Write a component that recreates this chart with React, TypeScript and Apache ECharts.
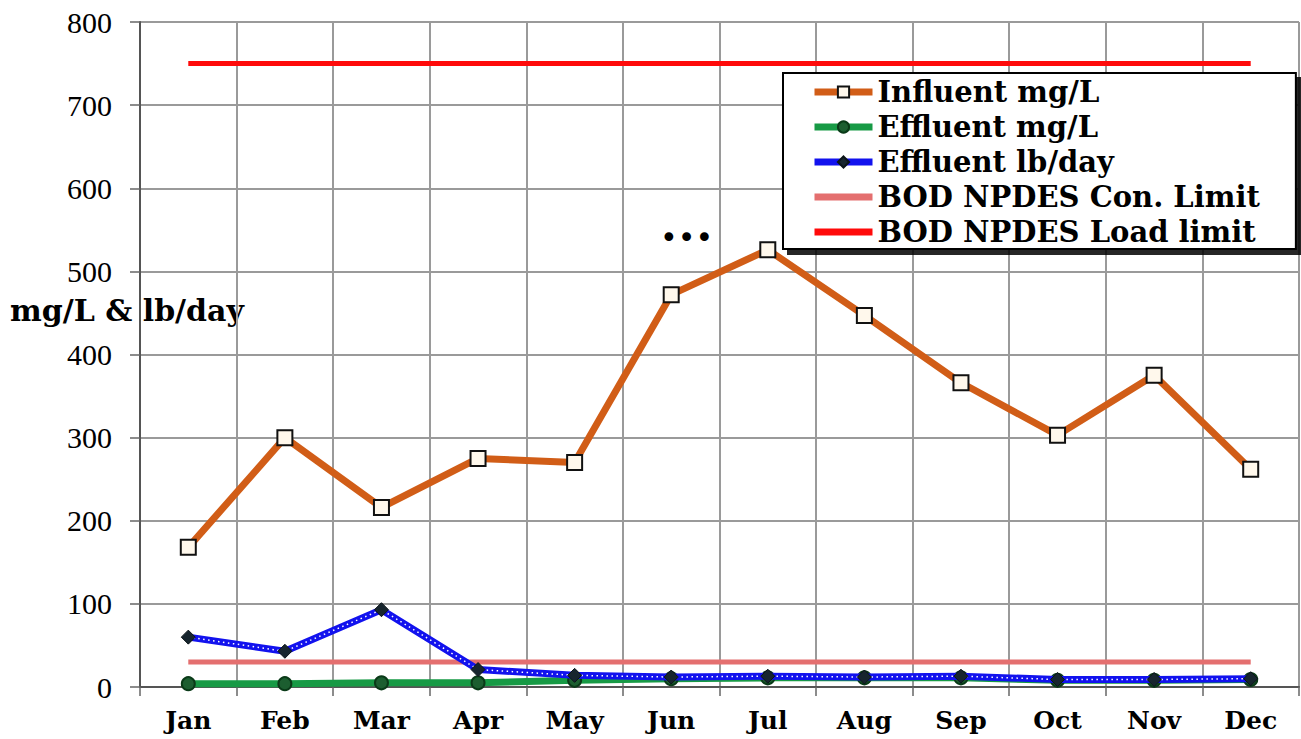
import React, { useEffect, useRef } from "react";
import * as echarts from "echarts";

const months = ["Jan", "Feb", "Mar", "Apr", "May", "Jun", "Jul", "Aug", "Sep", "Oct", "Nov", "Dec"];
const influentMgL = [168, 300, 216, 275, 270, 472, 526, 447, 366, 303, 375, 262];
const effluentMgL = [4, 4, 5, 5, 8, 10, 11, 11, 11, 8, 8, 9];
const effluentLbDay = [60, 43, 93, 21, 14, 12, 13, 12, 13, 9, 9, 10];
const conLimit = [30, 30, 30, 30, 30, 30, 30, 30, 30, 30, 30, 30];
const loadLimit = [750, 750, 750, 750, 750, 750, 750, 750, 750, 750, 750, 750];
const yTicks = { min: 0, max: 800, interval: 100 };

const SERIF_BOLD = "'DejaVu Serif', serif";

export default function App() {
  const ref = useRef<HTMLDivElement>(null);
  useEffect(() => {
    if (!ref.current) return;
    const chart = echarts.init(ref.current, null, { renderer: "svg" });
    chart.setOption({
      animation: false,
      backgroundColor: "#ffffff",
      grid: { left: 140, right: 2, top: 22, bottom: 52, containLabel: false },
      legend: {
        orient: "vertical",
        left: 783,
        top: 73,
        padding: [4, 36, 2, 28],
        itemGap: 5,
        itemWidth: 58,
        itemHeight: 14,
        backgroundColor: "#ffffff",
        borderColor: "#000000",
        borderWidth: 2,
        shadowColor: "rgba(0,0,0,0.85)",
        shadowOffsetX: 5,
        shadowOffsetY: 5,
        shadowBlur: 0,
        lineStyle: { width: 7 },
        data: ["Influent mg/L", "Effluent mg/L", "Effluent lb/day", "BOD NPDES Con. Limit", "BOD NPDES Load limit"],
        textStyle: { fontFamily: SERIF_BOLD, fontWeight: "bold", fontSize: 29, color: "#000", lineHeight: 30 },
      },
      xAxis: {
        type: "category",
        data: months,
        boundaryGap: true,
        axisLine: { show: true, lineStyle: { color: "#555", width: 2 } },
        axisTick: { show: true, length: 9, lineStyle: { color: "#666", width: 1.5 } },
        splitLine: { show: true, interval: 0, lineStyle: { color: "#9a9a9a", width: 2 } },
        axisLabel: { fontFamily: SERIF_BOLD, fontWeight: "bold", fontSize: 25, color: "#000", margin: 21 },
      },
      yAxis: {
        type: "value",
        min: yTicks.min,
        max: yTicks.max,
        interval: yTicks.interval,
        axisLine: { show: true, lineStyle: { color: "#555", width: 2 } },
        axisTick: { show: true, length: 10, lineStyle: { color: "#666", width: 1.5 } },
        splitLine: { show: true, lineStyle: { color: "#9a9a9a", width: 2 } },
        axisLabel: { fontFamily: "'Liberation Serif', serif", fontSize: 30, color: "#000", margin: 28 },
      },
      graphic: [
        {
          type: "text",
          left: 10,
          top: 295,
          style: { text: "mg/L & lb/day", fontFamily: SERIF_BOLD, fontWeight: "bold", fontSize: 30, fill: "#000" },
        },
        {
          type: "text",
          left: 660,
          top: 222,
          style: { text: "•••", fontFamily: "'DejaVu Sans', sans-serif", fontSize: 30, fill: "#000" },
        },
      ],
      series: [
        {
          name: "BOD NPDES Load limit",
          type: "line",
          data: loadLimit,
          symbol: "circle",
          showSymbol: false,
          lineStyle: { color: "#ff0a0a", width: 5 },
          itemStyle: { color: "rgba(0,0,0,0)" },
          z: 3,
        },
        {
          name: "BOD NPDES Con. Limit",
          type: "line",
          data: conLimit,
          symbol: "circle",
          showSymbol: false,
          lineStyle: { color: "#e46f6f", width: 5 },
          itemStyle: { color: "rgba(0,0,0,0)" },
          z: 3,
        },
        {
          name: "Effluent mg/L",
          type: "line",
          data: effluentMgL,
          symbol: "circle",
          symbolSize: 13,
          lineStyle: { color: "#179a45", width: 7 },
          itemStyle: { color: "#1c5e30", borderColor: "#0a3a18", borderWidth: 2 },
          z: 4,
        },
        {
          name: "Effluent lb/day",
          type: "line",
          data: effluentLbDay,
          symbol: "diamond",
          symbolSize: 14,
          lineStyle: { color: "#1212ee", width: 7 },
          itemStyle: { color: "#17252e", borderColor: "#0b1418", borderWidth: 1 },
          z: 5,
        },
        {
          name: "lbdots",
          type: "line",
          data: effluentLbDay,
          symbol: "none",
          silent: true,
          lineStyle: { color: "#ffffff", width: 1.5, type: [1.5, 3.5] },
          z: 5,
        },
        {
          name: "Influent mg/L",
          type: "line",
          data: influentMgL,
          symbol: "rect",
          symbolSize: 15,
          lineStyle: { color: "#d15d17", width: 7 },
          itemStyle: { color: "#fff8ec", borderColor: "#111", borderWidth: 2 },
          z: 6,
        },
      ],
    });
    return () => chart.dispose();
  }, []);
  return <div ref={ref} style={{ position: "fixed", left: 0, top: 0, width: 1301, height: 739 }} />;
}
